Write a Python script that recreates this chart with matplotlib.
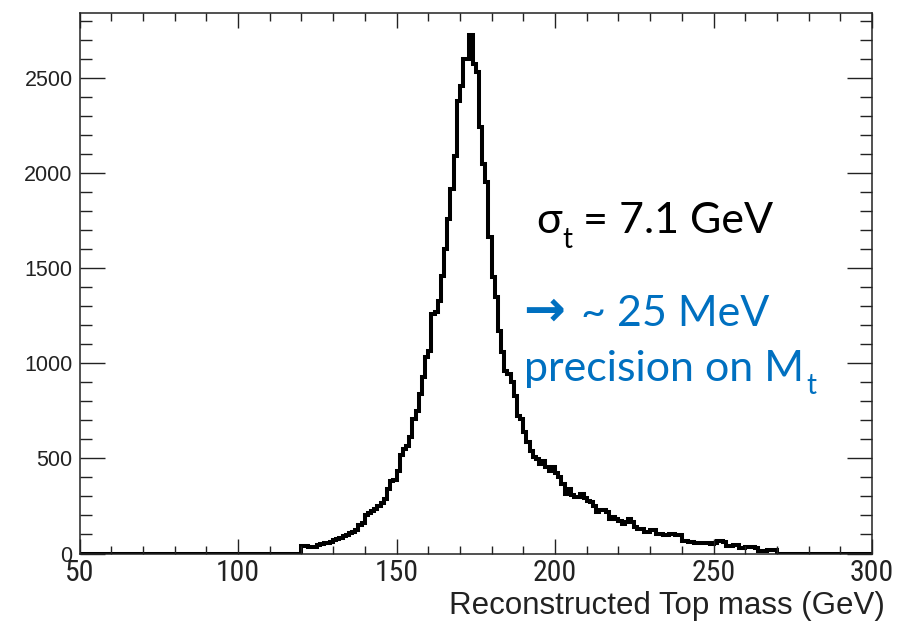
import numpy as np
import matplotlib
matplotlib.use("Agg")
import matplotlib.pyplot as plt
from matplotlib.ticker import MultipleLocator
from matplotlib import font_manager as fm

# ---- data ----
x_min, x_max = 50, 300
bin_width = 1
first_bin = 120
counts = [
    38, 40, 32, 34, 36, 44, 49, 53, 57, 62,            # 120-129
    70, 74, 84, 90, 96, 108, 114, 121, 152, 162,       # 130-139
    200, 212, 222, 232, 250, 263, 287, 340, 380, 388,  # 140-149
    432, 515, 550, 567, 611, 707, 751, 839, 926, 1031, # 150-159
    1066, 1259, 1270, 1329, 1460, 1600, 1758, 1915, 2090, 2379,  # 160-169
    2458, 2598, 2598, 2726, 2570, 2530, 2239, 2047, 1950, 1661,  # 170-179
    1451, 1346, 1171, 1060, 961, 944, 900, 830, 725, 707,        # 180-189
    637, 585, 541, 506, 497, 471, 488, 453, 436, 453,            # 190-199
    425, 401, 366, 313, 340, 305, 296, 296, 313, 290,            # 200-209
    278, 269, 252, 217, 226, 226, 217, 182, 191, 182,            # 210-219
    173, 156, 164, 182, 164, 138, 130, 130, 112, 112,            # 220-229
    121, 121, 103, 103, 95, 95, 100, 103, 95, 95,                # 230-239
    68, 65, 59, 59, 54, 54, 54, 54, 54, 52,                      # 240-249
    54, 68, 66, 60, 37, 40, 47, 45, 30, 30,                      # 250-259
    32, 33, 33, 30, 15, 14, 14, 19, 19, 19,                      # 260-269
]
y_max = 2840
x_ticks = [50, 100, 150, 200, 250, 300]
y_ticks = [0, 500, 1000, 1500, 2000, 2500]
x_label = "Reconstructed Top mass (GeV)"


def condensed_font():
    prefs = ["Liberation Sans Narrow", "Roboto Condensed", "DejaVu Sans Condensed",
             "Open Sans Condensed", "Noto Sans Condensed", "Arial Narrow"]
    found = {}
    for f in fm.fontManager.ttflist:
        low = (f.name + " " + f.fname).lower()
        if ("narrow" in low or "condensed" in low) and f.style == "normal" \
                and "bold" not in low and "light" not in low and "oblique" not in low \
                and "italic" not in low:
            found.setdefault(f.name, f.fname)
            for p in prefs:
                if p.lower().replace(" ", "") in f.fname.lower().replace("-", "").replace("_", ""):
                    found.setdefault(p, f.fname)
    for p in prefs:
        if p in found:
            return fm.FontProperties(fname=found[p])
    for f in fm.fontManager.ttflist:
        if f.name == "DejaVu Sans" and str(f.stretch) in ("condensed", "semi-condensed"):
            return fm.FontProperties(fname=f.fname)
    return None


# ---- figure ----
W, H = 902, 624
fig = plt.figure(figsize=(W / 100, H / 100), dpi=100)
L_px, R_px, T_px, B_px = 79.5, 872, 13, 553.5
ax = fig.add_axes([L_px / W, 1 - B_px / H, (R_px - L_px) / W, (B_px - T_px) / H])

edges = np.arange(x_min, x_max + bin_width, bin_width)
full = np.zeros(len(edges) - 1)
start = (first_bin - x_min) // bin_width
full[start:start + len(counts)] = counts
ax.stairs(full, edges, color="black", lw=2.9, baseline=None)

ax.set_xlim(x_min, x_max)
ax.set_ylim(0, y_max)
ax.set_xticks(x_ticks)
ax.set_yticks(y_ticks)
ax.xaxis.set_minor_locator(MultipleLocator(10))
ax.yaxis.set_minor_locator(MultipleLocator(100))

for s in ax.spines.values():
    s.set_color("#222222")
    s.set_linewidth(1.1)

ax.tick_params(axis="x", which="major", direction="in", length=11, width=1.0,
               top=True, color="#222222", pad=4)
ax.tick_params(axis="x", which="minor", direction="in", length=5.8, width=1.0,
               top=True, color="#222222")
ax.tick_params(axis="y", which="major", direction="in", length=18, width=1.0,
               right=True, color="#222222", pad=5)
ax.tick_params(axis="y", which="minor", direction="in", length=8.6, width=1.0,
               right=True, color="#222222")

cfont = condensed_font()
for lab in ax.get_xticklabels():
    if cfont is not None:
        lab.set_fontproperties(cfont)
        lab.set_fontsize(21.5)
    else:
        lab.set_fontfamily(["Liberation Sans", "DejaVu Sans"])
        lab.set_fontsize(19)
    lab.set_color("#222222")
for lab in ax.get_yticklabels():
    lab.set_fontfamily(["Liberation Sans", "DejaVu Sans"])
    lab.set_fontsize(15.5)
    lab.set_color("#222222")

fig.text(885 / W, 1 - 614 / H, x_label, ha="right", va="baseline",
         fontsize=22.5, family=["Liberation Sans", "DejaVu Sans"], color="#222222")

# ---- annotations ----
font = ["Lato", "DejaVu Sans"]
blue = "#0070C0"
big, small = 31, 20

t1 = fig.text(536 / W, 1 - 233 / H, "σ", fontsize=big, family=font,
              color="black", ha="left", va="baseline")
t2 = ax.annotate("t", xy=(1, 0), xycoords=t1, xytext=(0.5, -9),
                 textcoords="offset points", fontsize=small, family=font,
                 color="black", ha="left", va="bottom")
ax.annotate(" = 7.1 GeV", xy=(1, 0), xycoords=(t2, t1), xytext=(0, 0),
            textcoords="offset points", fontsize=big, family=font,
            color="black", ha="left", va="bottom")

arrow = fig.text(523 / W, 1 - 326 / H, "→", fontsize=36, fontweight="bold",
                 family=["DejaVu Sans"], color=blue, ha="left", va="baseline")
ax.annotate(" ~ 25 MeV", xy=(1, H - 326), xycoords=(arrow, "figure pixels"),
            xytext=(4, 0), textcoords="offset points", fontsize=big, family=font,
            color=blue, ha="left", va="baseline")
t3 = fig.text(524 / W, 1 - 381 / H, "precision on M", fontsize=big, family=font,
              color=blue, ha="left", va="baseline")
ax.annotate("t", xy=(1, 0), xycoords=t3, xytext=(2, -8),
            textcoords="offset points", fontsize=small, family=font,
            color=blue, ha="left", va="bottom")

fig.savefig("out.png", dpi=100)
